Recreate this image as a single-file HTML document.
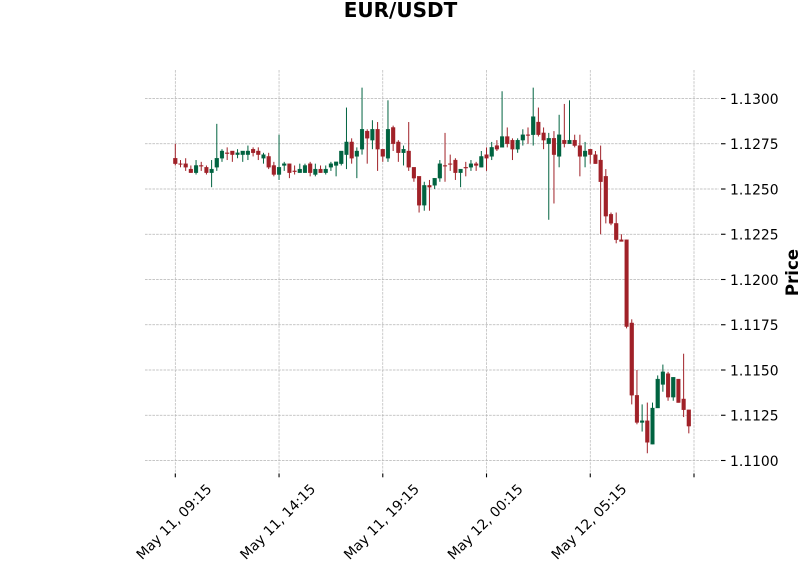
<!DOCTYPE html>
<html>
<head>
<meta charset="utf-8">
<title>EUR/USDT</title>
<style>
html,body{margin:0;padding:0;background:#fff;}
svg{display:block;}
text{font-family:"DejaVu Sans",sans-serif;fill:#000;}
</style>
</head>
<body>
<svg id="chart" xmlns="http://www.w3.org/2000/svg" width="800" height="575" viewBox="0 0 800 575">
<rect x="0" y="0" width="800" height="575" fill="#fff"/>
<text x="400.5" y="17" text-anchor="middle" font-size="20" font-weight="bold">EUR/USDT</text>
<text transform="translate(798,272.5) rotate(-90)" text-anchor="middle" font-size="16.6" font-weight="bold">Price</text>
<g id="grid"></g>
<g id="candles"></g>
<g id="axes"></g>
</svg>
<script>
const opens = [1.1267,1.1264,1.1264,1.1261,1.1259,1.1263,1.1262,1.1259,1.1262,1.1267,1.1270,1.1271,1.1269,1.1269,1.1269,1.1272,1.1271,1.1267,1.1268,1.1263,
1.1258,1.1263,1.1264,1.1260,1.1259,1.1259,1.1264,1.1258,1.1261,1.1259,1.1262,1.1263,1.1264,1.1269,1.1276,1.1268,1.1272,1.1282,1.1277,1.1283,
1.1272,1.1267,1.1284,1.1276,1.1270,1.1271,1.1262,1.1257,1.1241,1.1252,1.1252,1.1256,1.1263,1.1264,1.1266,1.1259,1.1262,1.1262,1.1264,1.1262,
1.1269,1.1268,1.1274,1.1273,1.1279,1.1277,1.1272,1.1277,1.1280,1.1280,1.1287,1.1281,1.1275,1.1278,1.1268,1.1277,1.1275,1.1277,1.1274,1.1268,
1.1272,1.1269,1.1266,1.1257,1.1236,1.1231,1.1222,1.1222,1.1176,1.1136,1.1121,1.1122,1.1109,1.1129,1.1142,1.1148,1.1135,1.1145,1.1134,1.1128];
const highs = [1.1275,1.1266,1.1267,1.1263,1.1266,1.1265,1.1263,1.1266,1.1286,1.1272,1.1273,1.1271,1.1272,1.1271,1.1274,1.1273,1.1273,1.1270,1.1270,1.1265,
1.1280,1.1265,1.1264,1.1263,1.1264,1.1264,1.1265,1.1264,1.1263,1.1263,1.1265,1.1265,1.1271,1.1295,1.1278,1.1273,1.1306,1.1283,1.1288,1.1287,
1.1272,1.1299,1.1285,1.1277,1.1274,1.1287,1.1262,1.1257,1.1254,1.1255,1.1256,1.1266,1.1281,1.1269,1.1267,1.1261,1.1265,1.1266,1.1265,1.1271,
1.1273,1.1276,1.1277,1.1304,1.1284,1.1278,1.1278,1.1283,1.1284,1.1306,1.1295,1.1284,1.1281,1.1282,1.1291,1.1297,1.1299,1.1280,1.1280,1.1276,
1.1272,1.1271,1.1274,1.1261,1.1237,1.1237,1.1225,1.1222,1.1178,1.1150,1.1131,1.1132,1.1132,1.1147,1.1153,1.1149,1.1146,1.1145,1.1159,1.1128];
const lows = [1.1263,1.1262,1.1260,1.1259,1.1258,1.1260,1.1258,1.1251,1.1260,1.1265,1.1266,1.1265,1.1267,1.1265,1.1266,1.1268,1.1266,1.1264,1.1261,1.1257,
1.1255,1.1260,1.1256,1.1258,1.1259,1.1259,1.1257,1.1257,1.1259,1.1258,1.1260,1.1257,1.1263,1.1261,1.1264,1.1256,1.1269,1.1264,1.1272,1.1260,
1.1265,1.1265,1.1271,1.1265,1.1263,1.1260,1.1254,1.1237,1.1238,1.1238,1.1250,1.1254,1.1254,1.1260,1.1255,1.1251,1.1257,1.1260,1.1260,1.1262,
1.1260,1.1266,1.1271,1.1273,1.1273,1.1266,1.1270,1.1274,1.1275,1.1274,1.1279,1.1272,1.1233,1.1242,1.1262,1.1273,1.1275,1.1273,1.1257,1.1262,
1.1264,1.1264,1.1225,1.1231,1.1230,1.1220,1.1221,1.1173,1.1131,1.1120,1.1116,1.1104,1.1109,1.1129,1.1138,1.1133,1.1133,1.1132,1.1124,1.1115];
const closes = [1.1264,1.1264,1.1262,1.1259,1.1263,1.1263,1.1259,1.1261,1.1267,1.1271,1.1270,1.1269,1.1270,1.1271,1.1271,1.1270,1.1269,1.1269,1.1262,1.1258,
1.1262,1.1264,1.1259,1.1260,1.1261,1.1263,1.1259,1.1261,1.1259,1.1261,1.1264,1.1265,1.1271,1.1276,1.1267,1.1271,1.1283,1.1278,1.1283,1.1272,
1.1268,1.1283,1.1275,1.1270,1.1272,1.1262,1.1256,1.1241,1.1252,1.1251,1.1256,1.1264,1.1263,1.1264,1.1259,1.1261,1.1262,1.1264,1.1263,1.1268,
1.1267,1.1273,1.1272,1.1279,1.1275,1.1272,1.1277,1.1280,1.1280,1.1290,1.1280,1.1277,1.1278,1.1269,1.1280,1.1275,1.1277,1.1274,1.1268,1.1271,
1.1269,1.1264,1.1254,1.1235,1.1231,1.1222,1.1221,1.1174,1.1136,1.1121,1.1122,1.1110,1.1129,1.1145,1.1149,1.1135,1.1146,1.1132,1.1128,1.1119];
const xTickIndices = [0,20,40,60,80,100];
const xTickLabels = ["May 11, 09:15","May 11, 14:15","May 11, 19:15","May 12, 00:15","May 12, 05:15",""];
const yTickValues = [1.13,1.1275,1.125,1.1225,1.12,1.1175,1.115,1.1125,1.11];
const yTickLabels = ["1.1300","1.1275","1.1250","1.1225","1.1200","1.1175","1.1150","1.1125","1.1100"];

const NS = "http://www.w3.org/2000/svg";
const UP = "#006340", DOWN = "#a02128";
function xScale(i){ return 175.3 + i * 5.187; }
function yScale(p){ return 98.5 + (1.13 - p) * 18100; }
function make(tag, attrs, parent){
  const el = document.createElementNS(NS, tag);
  for (const k in attrs) el.setAttribute(k, attrs[k]);
  parent.appendChild(el);
  return el;
}
const grid = document.getElementById("grid");
const candles = document.getElementById("candles");
const axes = document.getElementById("axes");
const gridStyle = {stroke:"#b4b4b4","stroke-width":0.7,"stroke-dasharray":"2.6 1.1",fill:"none"};

xTickIndices.forEach(function(idx, n){
  const x = xScale(idx);
  const gl = make("line", Object.assign({x1:x,x2:x,y1:70,y2:475}, gridStyle), grid);
  
  
  const t = make("line", {x1:x,x2:x,y1:473.5,y2:477.3,stroke:"#000","stroke-width":1.1}, axes);
  
  
  if (xTickLabels[n]) {
    const lb = make("text", {"font-size":13.89,"text-anchor":"middle","dominant-baseline":"central",
      transform:"translate(" + (x - 0.8) + ",522.3) rotate(-45)"}, axes);
    lb.textContent = xTickLabels[n];
    
    
  }
});
yTickValues.forEach(function(v, n){
  const y = yScale(v);
  const gl = make("line", Object.assign({x1:145,x2:719,y1:y,y2:y}, gridStyle), grid);
  
  
  const t = make("line", {x1:721,x2:725.5,y1:y,y2:y,stroke:"#000","stroke-width":1.1}, axes);
  
  
  const lb = make("text", {x:730,y:y + 5.3,"font-size":13.89}, axes);
  lb.textContent = yTickLabels[n];
  
  
});
opens.forEach(function(o, i){
  const c = closes[i];
  const color = c > o ? UP : DOWN;
  const x = xScale(i);
  const top = yScale(Math.max(o, c));
  const bottom = yScale(Math.min(o, c));
  const g = make("g", {}, candles);
  
  
  const wick = make("line", {x1:x,x2:x,y1:yScale(highs[i]),y2:yScale(lows[i]),stroke:color,"stroke-width":1}, g);
  
  
  const body = make("rect", {x:x - 1.9,y:top,width:3.8,height:Math.max(bottom - top, 0.8),fill:color,stroke:color,"stroke-width":0.3}, g);
  
  
});
</script>
</body>
</html>
